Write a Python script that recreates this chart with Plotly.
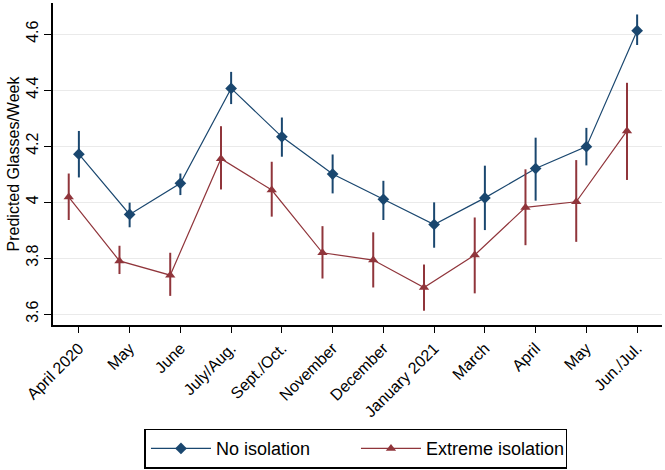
import plotly.graph_objects as go

months = ["April 2020", "May", "June", "July/Aug.", "Sept./Oct.", "November",
          "December", "January 2021", "March", "April", "May", "Jun./Jul."]

no_iso = [4.171, 3.956, 4.067, 4.406, 4.233, 4.100, 4.010, 3.920, 4.015, 4.120, 4.198, 4.612]
no_iso_hi = [4.254, 3.998, 4.102, 4.465, 4.302, 4.170, 4.076, 3.999, 4.130, 4.230, 4.265, 4.670]
no_iso_lo = [4.088, 3.910, 4.025, 4.350, 4.162, 4.031, 3.936, 3.837, 3.900, 4.005, 4.131, 4.561]

ext_iso = [4.018, 3.790, 3.739, 4.155, 4.043, 3.819, 3.793, 3.695, 3.811, 3.981, 4.001, 4.254]
ext_iso_hi = [4.102, 3.844, 3.819, 4.271, 4.144, 3.914, 3.892, 3.777, 3.945, 4.117, 4.150, 4.426]
ext_iso_lo = [3.936, 3.743, 3.665, 4.045, 3.948, 3.727, 3.695, 3.612, 3.674, 3.846, 3.858, 4.079]

y_ticks = [3.6, 3.8, 4.0, 4.2, 4.4, 4.6]
y_ticktext = ["3.6", "3.8", "4", "4.2", "4.4", "4.6"]

blue = "#1a476f"
red = "#90353b"

idx = list(range(len(months)))
x_red = [i - 0.2 for i in idx]

fig = go.Figure()
fig.add_trace(go.Scatter(
    x=idx, y=no_iso, mode="lines+markers", name="No isolation",
    line=dict(color=blue, width=1.2),
    marker=dict(symbol="diamond", size=9, color=blue),
    error_y=dict(type="data", symmetric=False,
                 array=[h - v for h, v in zip(no_iso_hi, no_iso)],
                 arrayminus=[v - l for v, l in zip(no_iso, no_iso_lo)],
                 color=blue, thickness=2, width=0),
))
fig.add_trace(go.Scatter(
    x=x_red, y=ext_iso, mode="lines+markers", name="Extreme isolation",
    line=dict(color=red, width=1.2),
    marker=dict(symbol="triangle-up", size=9, color=red),
    error_y=dict(type="data", symmetric=False,
                 array=[h - v for h, v in zip(ext_iso_hi, ext_iso)],
                 arrayminus=[v - l for v, l in zip(ext_iso, ext_iso_lo)],
                 color=red, thickness=2, width=0),
))

fig.update_layout(
    width=665, height=470,
    margin=dict(l=53, r=3, t=3, b=145, autoexpand=False),
    paper_bgcolor="white", plot_bgcolor="white",
    font=dict(family="Liberation Sans, Arial, sans-serif", size=15, color="black"),
    showlegend=True,
    legend=dict(orientation="h", x=0.4975, xanchor="center", y=-0.322, yanchor="top",
                bordercolor="black", borderwidth=1.5, font=dict(size=18),
                itemwidth=60, entrywidth=135, tracegroupgap=0),
)
fig.update_xaxes(
    range=[-0.51, 11.49], tickmode="array", tickvals=idx, ticktext=months,
    tickangle=-45, showgrid=False, zeroline=False, automargin=False,
    showline=True, linecolor="black", linewidth=1.5,
    ticks="outside", ticklen=6, tickcolor="black", tickfont=dict(size=16),
)
fig.update_yaxes(
    range=[3.561, 4.711], tickmode="array", tickvals=y_ticks, ticktext=y_ticktext,
    tickangle=-90, showgrid=True, gridcolor="#eaeaea", gridwidth=1, zeroline=False,
    showline=True, linecolor="black", linewidth=1.5, automargin=False,
    ticks="outside", ticklen=7, tickcolor="black", tickfont=dict(size=16),
    title=dict(text="Predicted Glasses/Week", font=dict(size=16), standoff=0),
)

fig.write_html("out.html", config={"displayModeBar": False},
               post_script="document.body.style.margin='0';")
